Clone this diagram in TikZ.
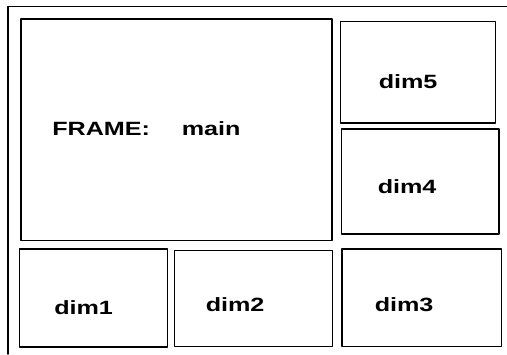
\documentclass[tikz,border=0pt]{standalone}
\usepackage{fontspec}
\setmainfont{Liberation Sans}
\begin{document}
\begin{tikzpicture}[x=.75pt,y=-.75pt,line join=round,line cap=round,font=\fontsize{14.4}{16}\selectfont\bfseries]
			\useasboundingbox (0,0) rectangle (507,354);
			\path 
			(507,6.5) coordinate (outerR)
			(8,354) coordinate (outerB)
			(21,19) coordinate (main1) (332,240.5) coordinate (main2)
			(340.5,21.5) coordinate (dimv1) (495.5,123) coordinate (dimv2)
			(341.5,129) coordinate (dimiv1) (499,234) coordinate (dimiv2)
			(19.5,249) coordinate (dimi1) (167.5,347) coordinate (dimi2)
			(174.5,250.5) coordinate (dimii1) (332.5,346.5) coordinate (dimii2)
			(342,249) coordinate (dimiii1) (501.5,346.5) coordinate (dimiii2);
			\draw[line width=1pt] (outerR) -| (outerB);
			\foreach \b in {main, dimi, dimii, dimiii, dimiv, dimv}
			\draw[line width=.9pt] (\b1) rectangle (\b2);
			\foreach \n/\x/\y/\t in {frame/52/135.7/FRAME:, name/181.5/135.7/main, dv/378.5/88.3/dim5, div/377.5/193.7/dim4, di/54/314/dim1, dii/205.5/311.7/dim2, diii/374.5/311.7/dim3}
			\node[anchor=base west,inner sep=0pt] (\n) at (\x,\y) {\scalebox{1.31}[1]{\t}};
		\end{tikzpicture}
\end{document}
